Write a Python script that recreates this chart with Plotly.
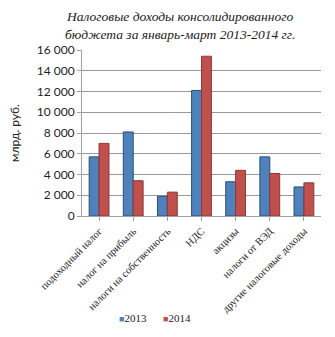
import plotly.graph_objects as go

categories = ["подоходный налог", "налог на прибыль", "налоги на собственность",
              "НДС", "акцизы", "налоги от ВЭД", "другие налоговые доходы"]
values_2013 = [5700, 8100, 1900, 12100, 3300, 5700, 2800]
values_2014 = [7000, 3400, 2300, 15400, 4400, 4100, 3200]
series_names = ["2013", "2014"]
series_colors = ["#4F81BD", "#C0504D"]
y_ticks = [0, 2000, 4000, 6000, 8000, 10000, 12000, 14000, 16000]
y_tick_labels = ["0", "2 000", "4 000", "6 000", "8 000", "10 000", "12 000", "14 000", "16 000"]
title_text = "Налоговые доходы консолидированного<br>бюджета за январь-март 2013-2014 гг."

fig = go.Figure()
fig.add_trace(go.Bar(name=series_names[0], x=categories, y=values_2013,
                     marker=dict(color=series_colors[0], line=dict(color="#2C4D75", width=1))))
fig.add_trace(go.Bar(name=series_names[1], x=categories, y=values_2014,
                     marker=dict(color=series_colors[1], line=dict(color="#8C3836", width=1))))

fig.add_annotation(text=title_text, xref="paper", yref="paper", x=0.41, y=1,
                   xanchor="center", yanchor="bottom", yshift=6, showarrow=False,
                   align="center",
                   font=dict(family="Liberation Serif", size=13.5, color="#222", style="italic"))

legend_x = [0.147, 0.33]
for n, c, lx in zip(series_names, series_colors, legend_x):
    fig.add_annotation(text=f"<span style='color:{c};font-size:9px'>■</span>{n}",
                       xref="paper", yref="paper", x=lx, y=-0.614,
                       xanchor="left", yanchor="middle", showarrow=False,
                       font=dict(family="Liberation Serif", size=11, color="#222"))

fig.update_layout(
    width=335, height=337,
    margin=dict(l=82, r=14, t=50, b=121),
    paper_bgcolor="white", plot_bgcolor="white",
    barmode="group", bargap=0.42, bargroupgap=0.0,
    font=dict(family="Lato", color="#222"),
    showlegend=False,
    xaxis=dict(tickangle=-45, tickfont=dict(family="Liberation Serif", size=10.5),
               showline=True, linecolor="#A0A0A0", ticks="outside", ticklen=4,
               tickcolor="#A0A0A0", automargin=False),
    yaxis=dict(range=[0, 16000], tickvals=y_ticks, ticktext=y_tick_labels,
               tickfont=dict(family="Lato", size=12),
               showgrid=True, gridcolor="#9A9A9A", gridwidth=1,
               showline=True, linecolor="#A0A0A0", ticks="outside", ticklen=4,
               tickcolor="#A0A0A0", zeroline=False,
               title=dict(text="млрд. руб.", font=dict(family="Lato", size=12), standoff=14)),
)
fig.write_html("out.html")
